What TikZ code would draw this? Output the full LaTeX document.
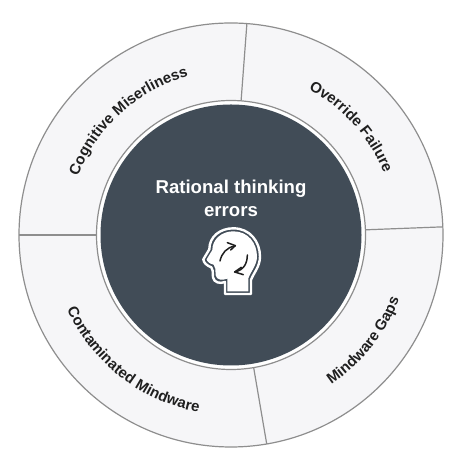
\documentclass[tikz,border=0pt]{standalone}
\usepackage{fontspec}
\setmainfont{Liberation Sans}
\usetikzlibrary{decorations.text}
\definecolor{slate}{HTML}{414C57}
\definecolor{ringfill}{HTML}{F6F6F8}
\definecolor{ringline}{HTML}{8E8E8E}
\definecolor{labelink}{HTML}{1F1F1F}
\tikzset{
  ringedge/.style={draw=ringline,line width=1.2pt},
  curvedlabel/.style={decorate,decoration={text along path,text align=center,
    text={|\fontsize{15}{18}\bfseries\color{labelink}|#1}}},
  headtitle/.style={text=white,font=\fontsize{18.6}{22}\bfseries,align=center,inner sep=0pt},
  headpath/.style={line join=round},
  headarrow/.style={draw=labelink,line width=1.5pt,line cap=round,line join=round}
}
\begin{document}
\begin{tikzpicture}[x=1pt,y=1pt]
\useasboundingbox (0,0) rectangle (474,470);
\fill[white] (0,0) rectangle (474,470);
% ring
\path[ringedge,fill=ringfill] (231,235) circle[radius=212];
\path[ringedge,fill=white] (231,235) circle[radius=134.5];
\fill[slate] (231,235) circle[radius=130.5];
\foreach \a in {85.7,180,2.2,-80.3}
  \draw[ringedge] (231,235) ++(\a:134.5) -- ++(\a:77.5);
% labels
\path[curvedlabel={Cognitive Miserliness}] (231,235) ++(172:164) arc[start angle=172,end angle=92,radius=164];
\path[curvedlabel={Override Failure}] (231,235) ++(84:165) arc[start angle=84,end angle=0,radius=165];
\path[curvedlabel={Mindware Gaps}] (231,235) ++(-78:180) arc[start angle=-78,end angle=1,radius=180];
\path[curvedlabel={Contaminated Mindware}] (231,235) ++(187:180) arc[start angle=187,end angle=277,radius=180];
% title
\node[headtitle] (title) at (231,272) {Rational thinking\\[1pt]errors};
% head icon
\begin{scope}[shift={(170,310)},x=0.3333pt,y=-0.3333pt]
  \def\headshape{(165,402) -- (165,366) .. controls (150,372) and (132,368) .. (129,352)
    -- (128,332) -- (124,322) .. controls (112,318) and (100,308) .. (100,298)
    -- (118,268) .. controls (118,230) and (150,205) .. (190,205)
    .. controls (240,205) and (270,245) .. (270,290)
    .. controls (270,320) and (250,340) .. (243,360) -- (243,402) -- cycle}
  \draw[white,line width=2.4pt,headpath] \headshape;
  \fill[white,headpath] (172,394) -- (172,356) .. controls (155,362) and (140,360) .. (137,346)
      -- (136,326) -- (131,314) .. controls (120,312) and (110,304) .. (110,298)
      -- (127,270) .. controls (127,238) and (155,214) .. (190,214)
      .. controls (235,214) and (261,250) .. (261,290)
      .. controls (261,315) and (242,335) .. (235,355) -- (235,394) -- cycle;
  \draw[headarrow] (150,303) .. controls (155,280) and (170,262) .. (195,258);
  \draw[headarrow] (172,248) -- (196,257) -- (182,270);
  \draw[headarrow] (232,285) .. controls (232,310) and (222,330) .. (194,336);
  \draw[headarrow] (214,322) -- (194,336) -- (220,344);
\end{scope}
\end{tikzpicture}
\end{document}
